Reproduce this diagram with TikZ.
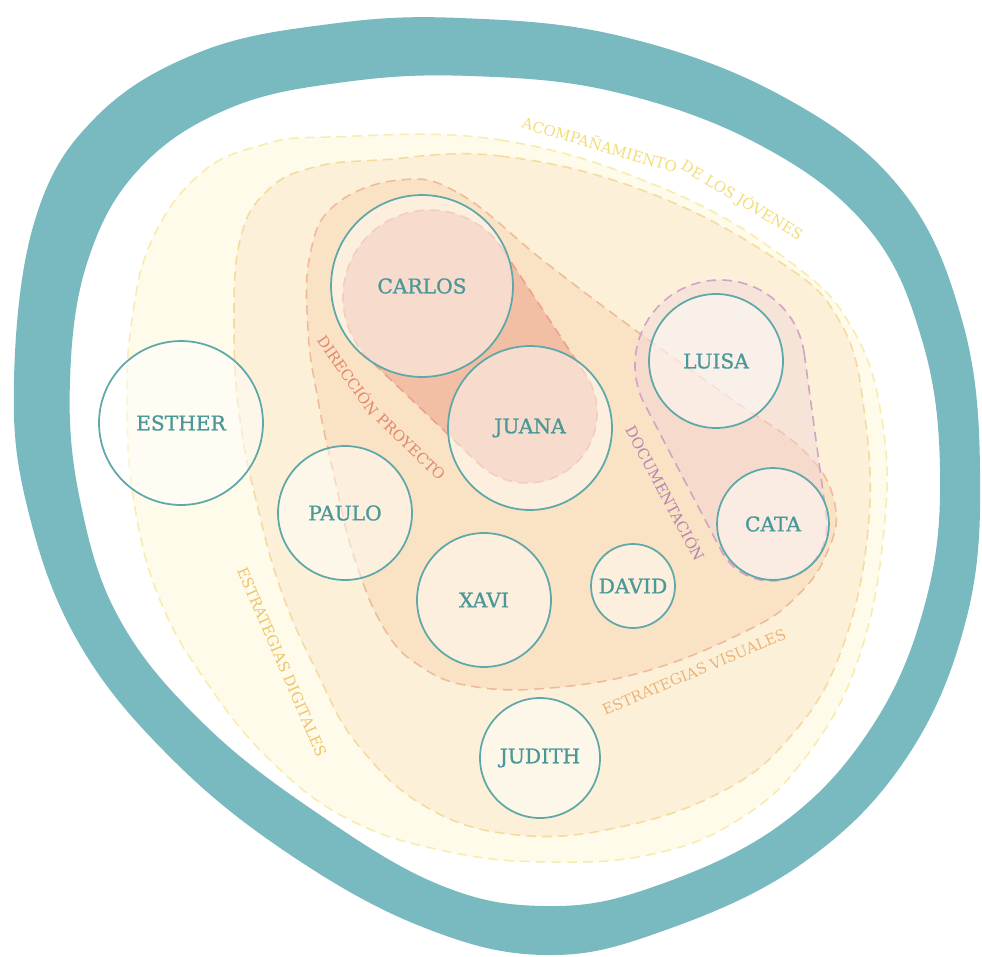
\documentclass[tikz,border=0pt]{standalone}
\usepackage{fontspec}
\setmainfont{DejaVu Serif}
\newfontfamily\namefamily{DejaVu Serif}[BoldFont={DejaVu Serif}, BoldFeatures={FakeBold=1.1}]
\usepackage{xcolor}
\usepackage{tikz}

\definecolor{bandteal}{HTML}{78BAC0}
\definecolor{ringteal}{HTML}{5FA8A9}
\definecolor{nameteal}{HTML}{4B9899}
\definecolor{accfill}{HTML}{FEFBEA}
\definecolor{accline}{HTML}{F8ECAE}
\definecolor{acctext}{HTML}{F3DD78}
\definecolor{digfill}{HTML}{FCF1D8}
\definecolor{digline}{HTML}{F5DBA0}
\definecolor{digtext}{HTML}{EEC46C}
\definecolor{visfill}{HTML}{FAE2C4}
\definecolor{visline}{HTML}{EFBB9B}
\definecolor{vistext}{HTML}{ECB47A}
\definecolor{dirfill}{HTML}{F2BFA4}
\definecolor{dirline}{HTML}{EBA38D}
\definecolor{dirtext}{HTML}{E3866B}
\definecolor{docfill}{HTML}{F2D3DB}
\definecolor{docline}{HTML}{D1A3C7}
\definecolor{doctext}{HTML}{B683B2}

\newcommand\regionfont{\fontsize{8.5}{9}\selectfont}

\tikzset{
  person/.style={
    circle, draw=ringteal, line width=1pt,
    fill=white, fill opacity=0.45, text opacity=1,
    text=nameteal, font=\namefamily\bfseries\fontsize{11.5}{12}\selectfont,
    inner sep=0pt, minimum size=0.04cm*#1,
  },
  region/.style={
    line width=0.9pt, dash pattern=on 5.5pt off 3.5pt,
  },
  region label/.style={
    text=#1, font=\regionfont, inner sep=0pt,
  },
}

\begin{document}
\begin{tikzpicture}[x=0.02cm, y=-0.02cm]

  % Canvas
  \fill[white] (0,0) rectangle (982,956);
  \useasboundingbox (0,0) rectangle (982,956);

  % Outer ring
  \fill[bandteal, even odd rule]
    plot[smooth cycle, tension=0.65] coordinates {
      (460,18) (620,36) (780,95) (900,188) (962,320) (980,470) (966,620)
      (905,760) (800,865) (660,932) (545,955) (425,928) (295,858) (175,762)
      (80,645) (28,510) (14,380) (35,220) (95,118) (200,52) (330,24)}
    plot[smooth cycle, tension=0.65] coordinates {
      (470,76) (615,92) (760,145) (868,228) (922,340) (940,470) (926,600)
      (873,725) (780,825) (650,888) (545,906) (440,885) (320,815) (205,725)
      (120,620) (80,500) (70,380) (88,260) (140,168) (230,108) (345,82)};

  % Regions
  \filldraw[region, fill=accfill, draw=accline]
    plot[smooth cycle, tension=0.7] coordinates {
      (330,137) (500,140) (667,190) (790,262) (852,328) (882,420) (884,530)
      (858,660) (805,758) (738,820) (653,854) (552,862) (450,852) (350,820)
      (270,760) (205,680) (160,600) (135,508) (127,410) (132,320) (152,240)
      (200,174) (262,145)};
  \filldraw[region, fill=digfill, draw=digline]
    plot[smooth cycle, tension=0.7] coordinates {
      (380,160) (500,156) (647,192) (780,262) (840,322) (864,410) (868,530)
      (840,654) (789,738) (721,792) (620,827) (518,835) (428,808) (358,745)
      (316,670) (281,590) (256,500) (240,420) (234,330) (240,240) (268,190)
      (315,167)};
  \filldraw[region, fill=visfill, draw=visline]
    plot[smooth cycle, tension=0.7] coordinates {
      (400,180) (460,194) (545,262) (635,330) (730,398) (805,452) (835,505)
      (826,555) (795,598) (748,630) (650,670) (550,688) (470,686) (420,666)
      (385,630) (355,560) (335,480) (318,400) (308,330) (310,255) (335,205)};
  \filldraw[region, fill=dirfill, draw=dirline]
    (502.6,249.1) -- (585.5,374.5)
    arc[start angle=-33.4, end angle=133.6, radius=70] -- (370.0,360.0)
    arc[start angle=133.6, end angle=326.6, radius=87] -- cycle;
  \filldraw[region, fill=docfill, fill opacity=0.42, draw=docline]
    (804.2,353.5) -- (826.5,517.4)
    arc[start angle=-7.75, end angle=152.35, radius=56] -- (644.7,404.4)
    arc[start angle=152.35, end angle=352.25, radius=85] -- cycle;

  % Define nodes
  \node[person=91] (carlos) at (422,286) {CARLOS};
  \node[person=82] (juana) at (530,428) {JUANA};
  \node[person=67] (luisa) at (716,361) {LUISA};
  \node[person=56] (cata) at (773,524) {CATA};
  \node[person=82] (esther) at (181,423) {ESTHER};
  \node[person=67] (paulo) at (345,513) {PAULO};
  \node[person=67] (xavi) at (484,600) {XAVI};
  \node[person=42] (david) at (633,586) {DAVID};
  \node[person=60] (judith) at (540,758) {JUDITH};

  % Labels
  \node[region label=acctext, rotate=-16.3] (acc_a) at (600,144) {ACOMPAÑAMIENTO};
  \node[region label=acctext, rotate=-31] (acc_b) at (742,200) {DE LOS JÓVENES};
  \node[region label=dirtext, rotate=-55] (dir_a) at (349,375) {DIRECCIÓN};
  \node[region label=dirtext, rotate=-44] (dir_b) at (411,447) {PROYECTO};
  \node[region label=digtext, rotate=-66.7] (dig_label) at (282,662) {ESTRATEGIAS DIGITALES};
  \node[region label=vistext, rotate=22.8] (vis_label) at (694,672) {ESTRATEGIAS VISUALES};
  \node[region label=doctext, rotate=-62] (doc_label) at (666,493) {DOCUMENTACIÓN};

\end{tikzpicture}
\end{document}
